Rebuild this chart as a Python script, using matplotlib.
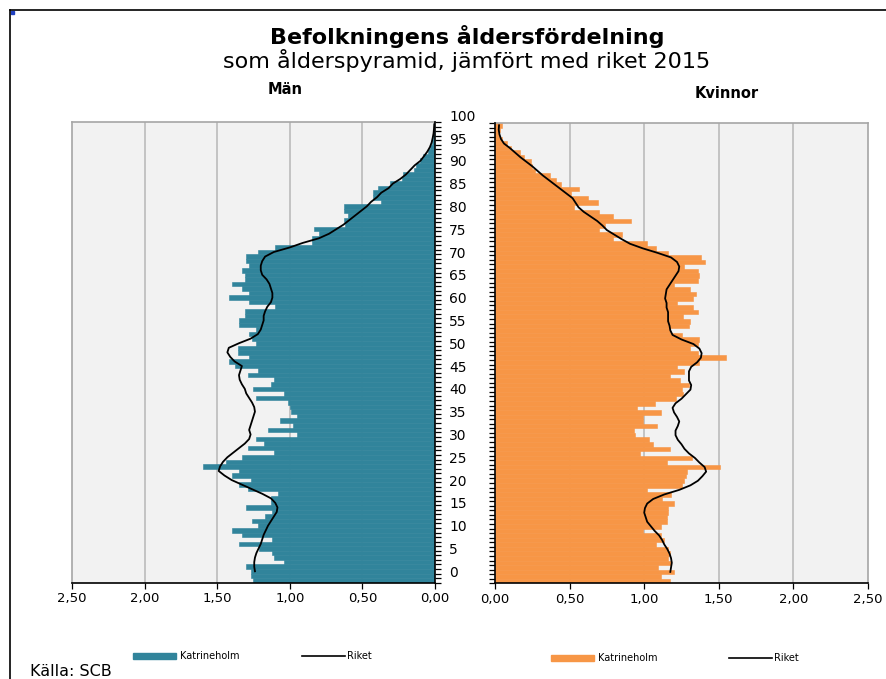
import matplotlib
matplotlib.use("Agg")
import matplotlib.pyplot as plt
import numpy as np
from matplotlib.lines import Line2D
from matplotlib.patches import Rectangle
import matplotlib.transforms as mtransforms

# ---------------- data ----------------
ages = list(range(101))

men_katrineholm = [
    1.25, 1.27, 1.27, 1.30, 1.04, 1.11, 1.12, 1.21, 1.35, 1.12,
    1.33, 1.40, 1.22, 1.26, 1.17, 1.12, 1.30, 1.13, 1.13, 1.08,
    1.29, 1.35, 1.27, 1.40, 1.35, 1.60, 1.44, 1.33, 1.11, 1.29,
    1.18, 1.23, 0.95, 1.15, 0.98, 1.07, 0.95, 0.99, 1.00, 1.01,
    1.23, 1.04, 1.25, 1.13, 1.11, 1.29, 1.22, 1.38, 1.42, 1.28,
    1.36, 1.36, 1.23, 1.26, 1.28, 1.23, 1.35, 1.35, 1.31, 1.31,
    1.10, 1.28, 1.42, 1.28, 1.33, 1.40, 1.31, 1.31, 1.33, 1.28,
    1.30, 1.30, 1.22, 1.10, 0.85, 0.85, 0.80, 0.83, 0.62, 0.63,
    0.60, 0.63, 0.63, 0.37, 0.43, 0.43, 0.39, 0.31, 0.23, 0.22,
    0.145, 0.13, 0.10, 0.08, 0.05, 0.035, 0.02, 0.015, 0.01, 0.01,
    0.01,
]

women_katrineholm = [
    1.17, 1.11, 1.20, 1.09, 1.18, 1.16, 1.17, 1.16, 1.08, 1.13,
    1.11, 0.99, 1.11, 1.15, 1.15, 1.16, 1.16, 1.20, 1.12, 1.18,
    1.02, 1.25, 1.27, 1.28, 1.29, 1.51, 1.15, 1.32, 0.97, 1.17,
    1.06, 1.03, 0.94, 0.93, 1.085, 0.99, 0.99, 1.11, 0.955, 1.07,
    1.21, 1.26, 1.25, 1.30, 1.24, 1.17, 1.27, 1.22, 1.37, 1.55,
    1.36, 1.31, 1.36, 1.37, 1.25, 1.17, 1.30, 1.31, 1.26, 1.36,
    1.33, 1.22, 1.33, 1.35, 1.31, 1.20, 1.36, 1.37, 1.36, 1.27,
    1.41, 1.38, 1.16, 1.08, 1.02, 0.79, 0.85, 0.70, 0.74, 0.91,
    0.79, 0.70, 0.53, 0.69, 0.62, 0.51, 0.56, 0.44, 0.41, 0.37,
    0.27, 0.25, 0.24, 0.195, 0.17, 0.11, 0.08, 0.045, 0.03, 0.034,
    0.05,
]

# Riket (whole country), ages 0..98
riket_men = [
    1.24, 1.245, 1.245, 1.24, 1.23, 1.215, 1.20, 1.19, 1.18, 1.165,
    1.15, 1.13, 1.11, 1.09, 1.085, 1.10, 1.13, 1.19, 1.26, 1.33,
    1.40, 1.45, 1.49, 1.48, 1.46, 1.43, 1.39, 1.35, 1.31, 1.28,
    1.27, 1.28, 1.27, 1.26, 1.25, 1.24, 1.245, 1.26, 1.28, 1.30,
    1.31, 1.33, 1.345, 1.35, 1.34, 1.33, 1.38, 1.41, 1.43, 1.42,
    1.35, 1.27, 1.22, 1.20, 1.19, 1.18, 1.18, 1.17, 1.155, 1.13,
    1.12, 1.12, 1.13, 1.14, 1.16, 1.19, 1.20, 1.20, 1.19, 1.17,
    1.11, 1.00, 0.91, 0.80, 0.73, 0.68, 0.63, 0.59, 0.55, 0.51,
    0.47, 0.44, 0.40, 0.37, 0.32, 0.29, 0.24, 0.20, 0.17, 0.14,
    0.10, 0.076, 0.053, 0.035, 0.023, 0.016, 0.01, 0.007, 0.005,
]

riket_women = [
    1.175, 1.18, 1.185, 1.18, 1.17, 1.155, 1.135, 1.12, 1.10, 1.07,
    1.045, 1.02, 1.01, 1.00, 1.005, 1.02, 1.06, 1.135, 1.235, 1.31,
    1.36, 1.39, 1.415, 1.405, 1.37, 1.34, 1.30, 1.27, 1.25, 1.225,
    1.21, 1.21, 1.225, 1.235, 1.22, 1.20, 1.19, 1.21, 1.25, 1.28,
    1.31, 1.315, 1.30, 1.30, 1.30, 1.315, 1.355, 1.38, 1.385, 1.37,
    1.33, 1.25, 1.19, 1.175, 1.17, 1.16, 1.16, 1.16, 1.15, 1.15,
    1.14, 1.145, 1.15, 1.17, 1.19, 1.21, 1.23, 1.235, 1.22, 1.18,
    1.09, 0.99, 0.905, 0.85, 0.80, 0.75, 0.72, 0.685, 0.64, 0.595,
    0.56, 0.54, 0.52, 0.48, 0.44, 0.40, 0.36, 0.32, 0.285, 0.25,
    0.21, 0.17, 0.135, 0.10, 0.06, 0.04, 0.03, 0.025, 0.027,
]

x_ticks = [0.0, 0.5, 1.0, 1.5, 2.0, 2.5]
x_ticklabels = ["0,00", "0,50", "1,00", "1,50", "2,00", "2,50"]
age_ticklabels = list(range(0, 101, 5))

title = "Befolkningens åldersfördelning"
subtitle = "som ålderspyramid, jämfört med riket 2015"
legend_bar = "Katrineholm"
legend_line = "Riket"
source = "Källa: SCB"

MEN_COLOR = "#31849b"
WOMEN_COLOR = "#f79646"
BG = "#f2f2f2"
GRID = "#c0c0c0"

# ---------------- figure ----------------
W, H = 887, 679
fig = plt.figure(figsize=(W / 100, H / 100), dpi=100)
fig.patch.set_facecolor("white")


def rect(x0, y0, x1, y1):
    return [x0 / W, 1 - y1 / H, (x1 - x0) / W, (y1 - y0) / H]


axL = fig.add_axes(rect(72, 122, 435, 582.7))
axR = fig.add_axes(rect(495, 123, 868, 583.3))

ages_arr = np.array(ages)
line_y = np.arange(len(riket_men)) + 2.0

for ax, vals, riket, color, side in [
    (axL, men_katrineholm, riket_men, MEN_COLOR, "L"),
    (axR, women_katrineholm, riket_women, WOMEN_COLOR, "R"),
]:
    ax.set_facecolor(BG)
    ax.set_ylim(-0.5, 100.5)
    if side == "L":
        ax.set_xlim(2.5, 0)
    else:
        ax.set_xlim(0, 2.5)
    for xv in x_ticks[1:-1]:
        ax.axvline(xv, color=GRID, lw=1.3, zorder=0.5)
    ax.barh(ages_arr, vals, height=1.0, color=color, edgecolor=color,
            linewidth=0.4, zorder=2)
    ax.plot(riket, line_y, color="black", lw=1.3, zorder=3,
            solid_joinstyle="round")
    ax.set_xticks(x_ticks)
    ax.set_xticklabels(x_ticklabels, fontsize=9.5)
    ax.tick_params(axis="x", length=4, width=0.9, pad=3, colors="black")
    ax.set_yticks(np.arange(-0.5, 101, 1))
    ax.set_yticklabels([])
    ax.tick_params(axis="y", length=4, width=0.9, direction="out")
    for s in ax.spines.values():
        s.set_linewidth(1.2)
    ax.spines["bottom"].set_color("black")
    ax.spines["top"].set_color("#a6a6a6")
    if side == "L":
        ax.yaxis.tick_right()
        ax.spines["left"].set_color("#a6a6a6")
        ax.spines["right"].set_color("black")
        ax.spines["right"].set_zorder(4)
    else:
        ax.spines["right"].set_color("#a6a6a6")
        ax.spines["left"].set_color("black")
        ax.spines["left"].set_zorder(4)

# age labels in the middle gap
trans = mtransforms.blended_transform_factory(fig.transFigure, axL.transData)
for a in age_ticklabels:
    axL.text(449 / W, a + 1.65, str(a), transform=trans, ha="left",
             va="center", fontsize=10, clip_on=False)

# titles
fig.text(467 / W, 1 - 37 / H, title, ha="center", va="center",
         fontsize=16, fontweight="bold")
fig.text(467 / W, 1 - 61 / H, subtitle, ha="center", va="center",
         fontsize=16)
fig.text(285 / W, 1 - 89 / H, "Män", ha="center", va="center",
         fontsize=10.5, fontweight="bold")
fig.text(727 / W, 1 - 93 / H, "Kvinnor", ha="center", va="center",
         fontsize=10.5, fontweight="bold")

# legends
def legend(xp, xl, y, color):
    fig.add_artist(Rectangle((xp / W, 1 - (y + 3) / H), 43 / W, 6 / H,
                             transform=fig.transFigure, color=color))
    fig.text((xp + 47) / W, 1 - y / H, legend_bar, ha="left", va="center",
             fontsize=7)
    fig.add_artist(Line2D([xl / W, (xl + 43) / W], [1 - y / H, 1 - y / H],
                          transform=fig.transFigure, color="black", lw=1.2))
    fig.text((xl + 45) / W, 1 - y / H, legend_line, ha="left", va="center",
             fontsize=7)


legend(133, 302, 656, MEN_COLOR)
legend(551, 729, 658, WOMEN_COLOR)

fig.text(30 / W, 1 - 672 / H, source, ha="left", va="center", fontsize=11.5)

# outer frame lines
fig.add_artist(Line2D([10 / W, 1], [1 - 10 / H, 1 - 10 / H],
                      transform=fig.transFigure, color="black", lw=1.2))
fig.add_artist(Line2D([10 / W, 10 / W], [1 - 10 / H, 0],
                      transform=fig.transFigure, color="black", lw=1.2))
fig.add_artist(Rectangle((11 / W, 1 - 14 / H), 3 / W, 3 / H,
                         transform=fig.transFigure, color="#2040c0"))

fig.savefig("out.png", dpi=100)
